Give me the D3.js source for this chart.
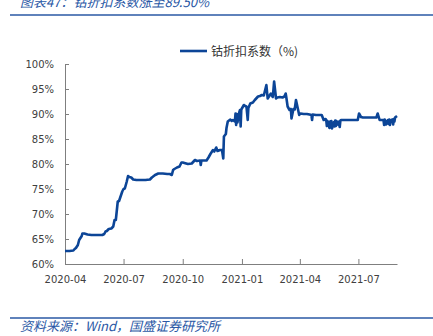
<!DOCTYPE html>
<html><head><meta charset="utf-8">
<script src="https://cdn.jsdelivr.net/npm/d3@7"></script>
<style>
html,body{margin:0;padding:0;background:#fff;}
svg{display:block;}
</style></head>
<body>
<script>
const title = "图表47：钴折扣系数涨至89.50%";
const source = "资料来源：Wind，国盛证券研究所";
const seriesName = "钴折扣系数（%)";
const yTicks = [0.60,0.65,0.70,0.75,0.80,0.85,0.90,0.95,1.00];
const xTickLabels = ["2020-04","2020-07","2020-10","2021-01","2021-04","2021-07"];
const xDomain = ["2020-04-01","2021-08-30"];
const dates = [
"2020-04-01","2020-04-08","2020-04-14","2020-04-16","2020-04-18","2020-04-21","2020-04-23","2020-04-24","2020-04-27","2020-04-28",
"2020-05-01","2020-05-06","2020-05-12","2020-05-20","2020-05-29","2020-06-01","2020-06-03","2020-06-05","2020-06-08","2020-06-12",
"2020-06-15","2020-06-17","2020-06-19","2020-06-22","2020-06-24","2020-06-29","2020-07-01","2020-07-03","2020-07-06","2020-07-08",
"2020-07-10","2020-07-13","2020-07-16","2020-07-21","2020-07-28","2020-08-04","2020-08-11","2020-08-14","2020-08-19","2020-08-24",
"2020-08-31","2020-09-07","2020-09-11","2020-09-14","2020-09-16","2020-09-18","2020-09-22","2020-09-26","2020-09-29","2020-10-01",
"2020-10-09","2020-10-15","2020-10-20","2020-10-23","2020-10-28","2020-10-29","2020-10-30","2020-11-04","2020-11-07","2020-11-10",
"2020-11-13","2020-11-17","2020-11-19","2020-11-22","2020-11-24","2020-11-28","2020-12-01","2020-12-03","2020-12-04","2020-12-07",
"2020-12-08","2020-12-10","2020-12-14","2020-12-16","2020-12-18","2020-12-21","2020-12-22","2020-12-23","2020-12-24","2020-12-25",
"2020-12-28","2020-12-29","2020-12-30","2020-12-31","2021-01-04","2021-01-06","2021-01-08","2021-01-10","2021-01-11","2021-01-14",
"2021-01-18","2021-01-21","2021-01-26","2021-01-29","2021-02-01","2021-02-04","2021-02-08","2021-02-10","2021-02-15","2021-02-18",
"2021-02-20","2021-02-23","2021-02-25","2021-03-01","2021-03-05","2021-03-08","2021-03-10","2021-03-11","2021-03-13","2021-03-16",
"2021-03-18","2021-03-19","2021-03-22","2021-03-24","2021-03-26","2021-03-29","2021-03-31","2021-04-02","2021-04-07","2021-04-12",
"2021-04-16","2021-04-19","2021-04-20","2021-04-21","2021-04-26","2021-04-30","2021-05-05","2021-05-08","2021-05-11","2021-05-12",
"2021-05-13","2021-05-14","2021-05-17","2021-05-18","2021-05-19","2021-05-20","2021-05-21","2021-05-24","2021-05-25","2021-05-26",
"2021-05-27","2021-05-28","2021-05-31","2021-06-01","2021-06-02","2021-06-03","2021-06-04","2021-06-07","2021-06-15","2021-06-22",
"2021-06-30","2021-07-02","2021-07-05","2021-07-08","2021-07-15","2021-07-22","2021-07-29","2021-07-31","2021-08-03","2021-08-06",
"2021-08-09","2021-08-10","2021-08-11","2021-08-12","2021-08-13","2021-08-16","2021-08-17","2021-08-18","2021-08-19","2021-08-20",
"2021-08-23","2021-08-24","2021-08-25","2021-08-26","2021-08-27","2021-08-30"
];
const values = [
62.6,62.6,62.7,63.0,63.2,63.8,64.8,65.0,65.6,66.1,
66.1,65.9,65.8,65.8,65.8,66.0,66.5,66.6,67.0,67.1,
67.5,68.8,68.8,72.5,72.6,74.5,75.0,75.1,76.5,77.6,
77.4,77.3,76.9,76.8,76.8,76.8,76.9,77.3,77.8,78.1,
78.1,78.0,78.0,77.8,78.8,79.0,79.3,79.5,80.3,80.3,
80.0,80.1,80.8,80.6,80.7,79.8,80.7,80.7,80.7,81.3,
82.0,82.8,82.5,83.3,82.6,82.8,82.8,81.1,85.5,86.0,
87.2,88.5,88.9,88.6,88.8,88.5,90.1,87.8,90.0,88.3,
90.4,90.8,87.5,90.9,91.8,91.6,91.5,88.8,91.2,92.1,
92.3,92.8,93.5,93.6,93.8,93.7,95.8,93.1,94.1,93.4,
96.5,93.1,93.3,93.4,93.3,93.5,94.1,93.3,91.5,90.8,
91.0,89.1,91.0,90.9,92.8,91.0,89.8,90.1,90.0,90.0,
89.9,89.8,88.8,89.9,89.8,89.8,89.8,88.8,89.0,88.8,
87.6,88.6,87.2,88.5,87.4,88.6,87.1,88.4,87.5,88.7,
87.6,88.6,87.8,88.5,87.4,88.7,88.8,88.8,88.8,88.8,
88.8,90.1,89.4,89.3,89.3,89.3,89.3,90.1,88.8,88.8,
88.8,87.8,88.9,88.6,87.9,88.8,88.0,88.9,87.8,88.7,
88.9,87.9,89.0,88.5,89.3,89.6
];

const W = 433, H = 336;
const parse = d3.timeParse("%Y-%m-%d");
const data = dates.map((d,i)=>({date:parse(d), v:values[i]/100}));

const svg = d3.select("body").append("svg").attr("width",W).attr("height",H);
const blue = "#2a58a5";
const lineColor = "#0c4597";
const cjk = "'Noto Sans CJK SC','DejaVu Sans',sans-serif";

// title (partially cut off at top, as in the reference)
svg.append("text").attr("x",20).attr("y",7).attr("font-family",cjk)
  .attr("font-size",13).attr("font-style","italic").attr("fill",blue).text(title);
svg.append("line").attr("x1",10).attr("x2",433).attr("y1",15).attr("y2",15)
  .attr("stroke",blue).attr("stroke-width",1.5);
// footer
svg.append("line").attr("x1",10).attr("x2",433).attr("y1",318).attr("y2",318)
  .attr("stroke",blue).attr("stroke-width",1.5);
svg.append("text").attr("x",20).attr("y",331).attr("font-family",cjk)
  .attr("font-size",13).attr("font-style","italic").attr("fill",blue).text(source);

const x = d3.scaleTime().domain(xDomain.map(parse)).range([65,397]);
const y = d3.scaleLinear().domain([0.60,1.00]).range([264,64]);

const axisColor = "#7f7f7f";
const tickDates = xTickLabels.map(s=>parse(s+"-01"));
const gx = svg.append("g").attr("transform","translate(0,264)")
  .call(d3.axisBottom(x).tickValues(tickDates).tickSize(-5).tickSizeOuter(0)
    .tickFormat((d,i)=>xTickLabels[i]).tickPadding(12));
const gy = svg.append("g").attr("transform","translate(65,0)")
  .call(d3.axisLeft(y).tickValues(yTicks).tickSize(-4).tickSizeOuter(0)
    .tickFormat(d3.format(".0%")).tickPadding(11));
[gx,gy].forEach(g=>{
  g.select(".domain").attr("stroke",axisColor);
  g.selectAll(".tick line").attr("stroke",axisColor);
  g.selectAll("text").attr("font-family","'DejaVu Sans',sans-serif")
    .attr("font-size",10).attr("fill","#404040");
});

const line = d3.line().x(d=>x(d.date)).y(d=>y(d.v));
svg.append("path").datum(data).attr("d",line).attr("fill","none")
  .attr("stroke",lineColor).attr("stroke-width",2.6).attr("stroke-linejoin","round");

// legend
const lg = svg.append("g");
lg.append("line").attr("x1",180).attr("x2",207).attr("y1",51).attr("y2",51)
  .attr("stroke",lineColor).attr("stroke-width",2.6);
lg.append("text").attr("x",211).attr("y",55.5).attr("font-family",cjk)
  .attr("font-size",12).attr("fill","#333").text(seriesName);
</script>
</body></html>
